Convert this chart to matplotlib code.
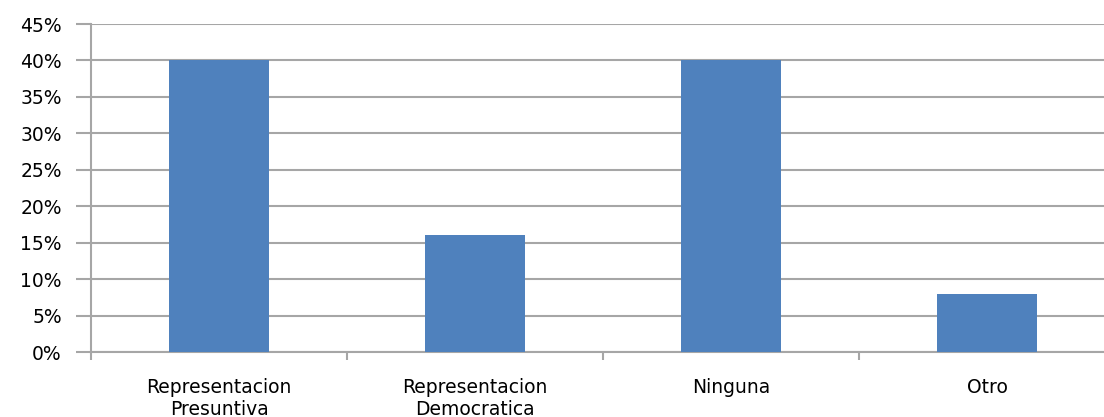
import numpy as np
import matplotlib
matplotlib.use("Agg")
import matplotlib.pyplot as plt
from matplotlib.ticker import FixedLocator, PercentFormatter

categories = ["Representacion\nPresuntiva", "Representacion\nDemocratica", "Ninguna", "Otro"]
shares = [40, 16, 40, 8]
y_ticks = [0, 5, 10, 15, 20, 25, 30, 35, 40, 45]

bar_color = "#4F81BD"
grid_color = "#A6A6A6"

fig = plt.figure(figsize=(11.04, 4.17), dpi=100)
# plot area runs slightly past the right edge of the figure
ax = fig.add_axes([91 / 1104, 1 - 352 / 417, 1024 / 1104, 328 / 417])

x = np.arange(len(categories))
ax.bar(x, shares, width=0.39, color=bar_color, zorder=3)

ax.set_xlim(-0.5, len(categories) - 0.5)
ax.set_ylim(0, 45)
ax.yaxis.set_major_locator(FixedLocator(y_ticks))
ax.yaxis.set_major_formatter(PercentFormatter(decimals=0))
ax.yaxis.grid(True, color=grid_color, linewidth=1.5, zorder=0)

ax.set_xticks(x)
ax.set_xticklabels(categories, fontsize=13.5, linespacing=1.15)
ax.xaxis.set_minor_locator(FixedLocator(np.arange(-0.5, len(categories), 1.0)))
ax.tick_params(axis="x", which="major", length=0, pad=19)
ax.tick_params(axis="x", which="minor", length=6, width=1.5, color=grid_color, direction="out")
ax.tick_params(axis="y", length=11, width=1.5, color=grid_color, labelsize=13.5, pad=10)

for side in ["top", "right"]:
    ax.spines[side].set_visible(False)
for side in ["left", "bottom"]:
    ax.spines[side].set_color(grid_color)
    ax.spines[side].set_linewidth(1.5)

fig.savefig("out.png", dpi=100)
